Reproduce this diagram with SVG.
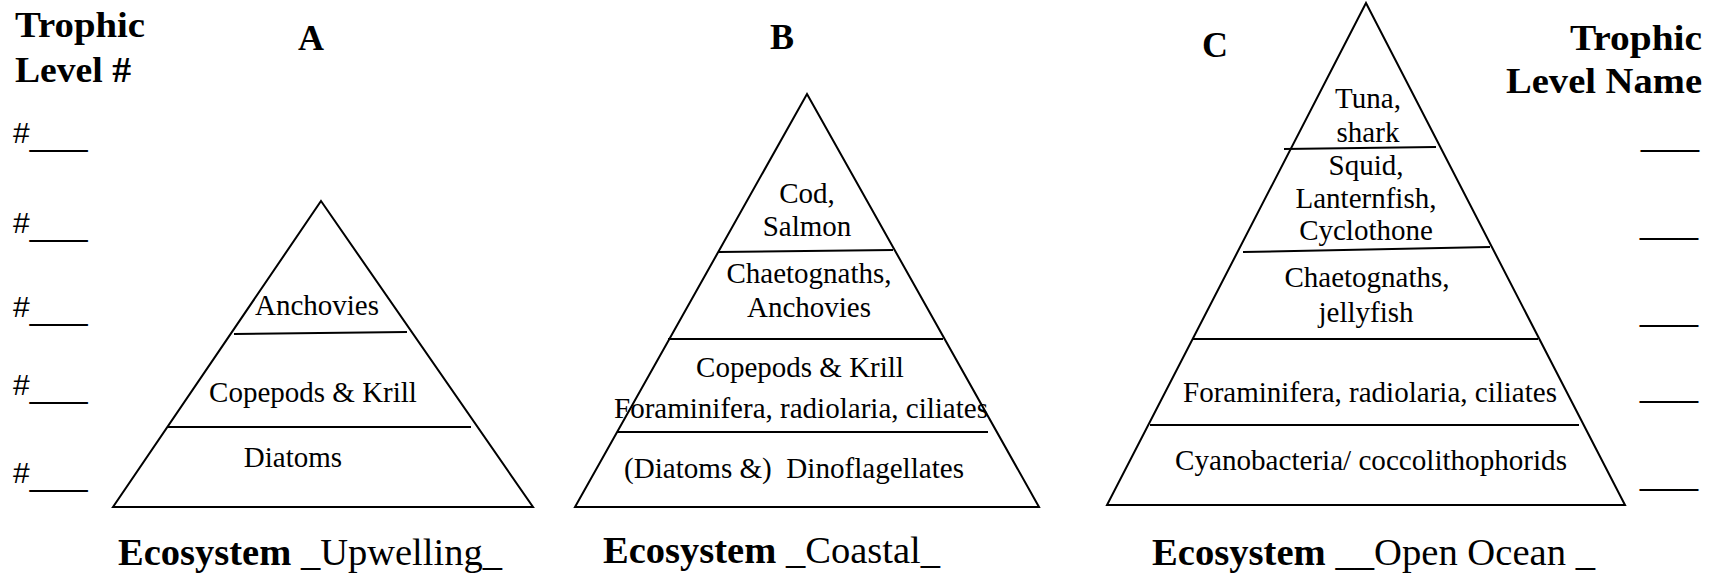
<svg xmlns="http://www.w3.org/2000/svg" width="1717" height="576" viewBox="0 0 1717 576">
<style>
.hd{font-family:"Liberation Serif","Times New Roman",serif;font-weight:bold;font-size:36px;fill:#000}
.eco{font-family:"Liberation Serif","Times New Roman",serif;font-size:37px;fill:#000}
.lb{font-family:"Liberation Serif","Times New Roman",serif;font-size:29px;fill:#000;text-anchor:middle}
.num{font-family:"Liberation Sans",Arial,sans-serif;font-size:30px;fill:#000}
.tri{fill:#fff;stroke:#000;stroke-width:2;stroke-linejoin:miter}
.div{stroke:#000;stroke-width:2;fill:none}
</style>
<rect width="1717" height="576" fill="#fff"/>

<g id="left-labels">
<text class="hd" x="15" y="37" textLength="130" lengthAdjust="spacingAndGlyphs">Trophic</text>
<text class="hd" x="15" y="82" textLength="116" lengthAdjust="spacingAndGlyphs">Level #</text>
<text class="num" x="13" y="143">#<tspan dy="3" textLength="58" lengthAdjust="spacingAndGlyphs">___</tspan></text>
<text class="num" x="13" y="233">#<tspan dy="3" textLength="58" lengthAdjust="spacingAndGlyphs">___</tspan></text>
<text class="num" x="13" y="317">#<tspan dy="3" textLength="58" lengthAdjust="spacingAndGlyphs">___</tspan></text>
<text class="num" x="13" y="395">#<tspan dy="3" textLength="58" lengthAdjust="spacingAndGlyphs">___</tspan></text>
<text class="num" x="13" y="483">#<tspan dy="3" textLength="58" lengthAdjust="spacingAndGlyphs">___</tspan></text>
</g>

<g id="right-labels">
<text class="hd" x="1570" y="50" textLength="132" lengthAdjust="spacingAndGlyphs">Trophic</text>
<text class="hd" x="1506" y="93" textLength="196" lengthAdjust="spacingAndGlyphs">Level Name</text>
<text class="num" x="1641" y="146" textLength="58" lengthAdjust="spacingAndGlyphs">___</text>
<text class="num" x="1640" y="234" textLength="58" lengthAdjust="spacingAndGlyphs">___</text>
<text class="num" x="1640" y="321" textLength="58" lengthAdjust="spacingAndGlyphs">___</text>
<text class="num" x="1640" y="397" textLength="58" lengthAdjust="spacingAndGlyphs">___</text>
<text class="num" x="1640" y="485" textLength="58" lengthAdjust="spacingAndGlyphs">___</text>
</g>

<g id="pyramid-A">
<text class="hd" x="311" y="50" text-anchor="middle">A</text>
<polygon class="tri" points="321,201 533,507 113,507"/>
<line class="div" x1="234" y1="334" x2="407" y2="332"/>
<line class="div" x1="168" y1="427" x2="471" y2="427"/>
<text class="lb" x="317" y="315">Anchovies</text>
<text class="lb" x="313" y="402">Copepods &amp; Krill</text>
<text class="lb" x="293" y="467">Diatoms</text>
<text class="eco" x="118" y="565" textLength="384" lengthAdjust="spacingAndGlyphs"><tspan font-weight="bold">Ecosystem</tspan> _Upwelling_</text>
</g>

<g id="pyramid-B">
<text class="hd" x="782" y="49" text-anchor="middle">B</text>
<polygon class="tri" points="807,94 1039,507 575,507"/>
<line class="div" x1="719" y1="252" x2="893" y2="250"/>
<line class="div" x1="668" y1="339" x2="943" y2="339"/>
<line class="div" x1="617" y1="432" x2="988" y2="432"/>
<text class="lb" x="807" y="203">Cod,</text>
<text class="lb" x="807" y="236">Salmon</text>
<text class="lb" x="809" y="283">Chaetognaths,</text>
<text class="lb" x="809" y="317">Anchovies</text>
<text class="lb" x="800" y="377">Copepods &amp; Krill</text>
<text class="lb" x="801" y="418" textLength="374" lengthAdjust="spacingAndGlyphs">Foraminifera, radiolaria, ciliates</text>
<text class="lb" x="794" y="478" xml:space="preserve" textLength="340" lengthAdjust="spacingAndGlyphs">(Diatoms &amp;)  Dinoflagellates</text>
<text class="eco" x="603" y="563" textLength="337" lengthAdjust="spacingAndGlyphs"><tspan font-weight="bold">Ecosystem</tspan> _Coastal_</text>
</g>

<g id="pyramid-C">
<text class="hd" x="1215" y="57" text-anchor="middle">C</text>
<polygon class="tri" points="1366,3 1625,505 1107,505"/>
<line class="div" x1="1284" y1="149" x2="1436" y2="147"/>
<line class="div" x1="1243" y1="252" x2="1490" y2="247"/>
<line class="div" x1="1193" y1="339" x2="1538" y2="339"/>
<line class="div" x1="1150" y1="425" x2="1579" y2="425"/>
<text class="lb" x="1368" y="108">Tuna,</text>
<text class="lb" x="1368" y="142">shark</text>
<text class="lb" x="1366" y="175">Squid,</text>
<text class="lb" x="1366" y="208">Lanternfish,</text>
<text class="lb" x="1366" y="240">Cyclothone</text>
<text class="lb" x="1367" y="287">Chaetognaths,</text>
<text class="lb" x="1366" y="322">jellyfish</text>
<text class="lb" x="1370" y="402" textLength="374" lengthAdjust="spacingAndGlyphs">Foraminifera, radiolaria, ciliates</text>
<text class="lb" x="1371" y="470" textLength="392" lengthAdjust="spacingAndGlyphs">Cyanobacteria/ coccolithophorids</text>
<text class="eco" x="1152" y="565" textLength="443" lengthAdjust="spacingAndGlyphs" xml:space="preserve"><tspan font-weight="bold">Ecosystem</tspan> __Open Ocean _</text>
</g>
</svg>
